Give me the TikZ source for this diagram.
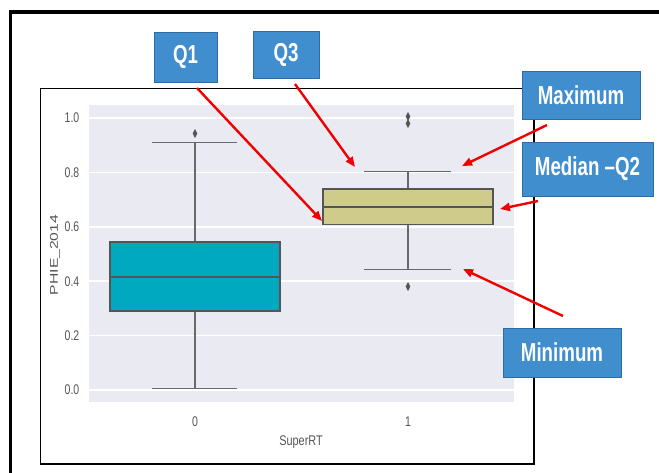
\documentclass[tikz,border=0pt]{standalone}
\usepackage{fontspec}
\setmainfont{Liberation Sans}
\usetikzlibrary{arrows.meta}
\definecolor{lblue}{RGB}{64,142,206}
\definecolor{lbord}{RGB}{46,108,168}
\definecolor{plotbg}{RGB}{234,234,242}
\definecolor{boxteal}{RGB}{0,168,192}
\definecolor{boxkhaki}{RGB}{207,203,138}
\definecolor{wgray}{RGB}{105,105,105}
\definecolor{tgray}{RGB}{85,85,85}
\definecolor{arrred}{RGB}{240,0,0}
\newcommand{\sqz}[2]{\scalebox{#1}[1]{#2}}
\newcommand{\dmd}[2]{\fill[tgray] (#1,#2-4.5) -- (#1+2.3,#2) -- (#1,#2+4.5) -- (#1-2.3,#2) -- cycle;}
\begin{document}
\begin{tikzpicture}[x=1pt,y=-1pt,
  lbl/.style={draw=lbord, line width=1pt, fill=lblue, text=white,
    font=\fontsize{26}{28}\selectfont\bfseries, inner sep=0pt},
  tick/.style={text=tgray, font=\fontsize{14}{16}\selectfont, inner sep=0pt},
  grid/.style={white, line width=1.6pt},
  wsk/.style={wgray, line width=1.6pt},
  bx/.style={draw=tgray, line width=1.6pt},
  pointer/.style={arrred, line width=2.4pt, -{Triangle[length=10pt,width=8pt]}}]
\useasboundingbox (0,0) rectangle (659,472);
\clip (0,0) rectangle (659,472);
% outer frame
\draw[black, line width=3.6pt] (10.3,11.7) rectangle (700,520);
% inner plot frame
\draw[black, line width=1.1pt] (40.5,88.5) rectangle (534,464);
% plot background
\fill[plotbg] (89,105) rectangle (514,402);
% grid lines
\foreach \yy in {118,172.4,226.8,281.2,335.6,390}
  \draw[grid] (89,\yy) -- (514,\yy);
% tick labels
\node[tick] (t10) at (72,118) {\sqz{0.75}{1.0}};
\node[tick] (t08) at (72,172.4) {\sqz{0.75}{0.8}};
\node[tick] (t06) at (72,226.8) {\sqz{0.75}{0.6}};
\node[tick] (t04) at (72,281.2) {\sqz{0.75}{0.4}};
\node[tick] (t02) at (72,335.6) {\sqz{0.75}{0.2}};
\node[tick] (t00) at (72,390) {\sqz{0.75}{0.0}};
\node[tick] (x0) at (195,422) {\sqz{0.75}{0}};
\node[tick] (x1) at (408,422) {\sqz{0.75}{1}};
\node[tick] (xl) at (301,442) {\sqz{0.78}{SuperRT}};
\node[tick, rotate=90] (yl) at (55,255) {\scalebox{1.12}[0.8]{PHIE\_2014}};
% box 0
\draw[wsk] (195,142.5) -- (195,241.8);
\draw[wsk] (195,311.1) -- (195,388.6);
\draw[wsk] (152,142.5) -- (237,142.5);
\draw[wsk] (152,388.6) -- (237,388.6);
\filldraw[bx, fill=boxteal] (110,241.8) rectangle (280,311.1);
\draw[bx] (110,277.1) -- (280,277.1);
\dmd{195}{133.5}
% box 1
\draw[wsk] (408,171.5) -- (408,188.7);
\draw[wsk] (408,224.5) -- (408,269.5);
\draw[wsk] (364,171.5) -- (451,171.5);
\draw[wsk] (364,269.5) -- (451,269.5);
\filldraw[bx, fill=boxkhaki] (323,188.7) rectangle (493,224.5);
\draw[bx] (323,206.8) -- (493,206.8);
\dmd{408}{116.5}
\dmd{408}{123.5}
\dmd{408}{286.5}
% labels
\node[lbl, minimum width=63pt, minimum height=50pt] (q1) at (185.5,57) {\sqz{0.72}{Q1}};
\node[lbl, minimum width=66pt, minimum height=47pt] (q3) at (286,54.5) {\sqz{0.72}{Q3}};
\node[lbl, minimum width=118pt, minimum height=48pt] (mx) at (581,95) {\sqz{0.72}{Maximum}};
\node[lbl, minimum width=131pt, minimum height=54pt] (md) at (587.5,169) {\sqz{0.72}{Median –Q2}};
\node[lbl, minimum width=118pt, minimum height=49pt] (mn) at (562,352.5) {\sqz{0.72}{Minimum}};
% arrow ends
\coordinate (q1s) at (197,88);
\coordinate (q1e) at (322,221);
\coordinate (q3s) at (295,84);
\coordinate (q3e) at (355,167);
\coordinate (mxs) at (547,125);
\coordinate (mxe) at (462,166);
\coordinate (mds) at (538,201);
\coordinate (mde) at (500,209);
\coordinate (mns) at (563,316);
\coordinate (mne) at (463,269);
\draw[pointer] (q1s) -- (q1e);
\draw[pointer] (q3s) -- (q3e);
\draw[pointer] (mxs) -- (mxe);
\draw[pointer] (mds) -- (mde);
\draw[pointer] (mns) -- (mne);
\end{tikzpicture}
\end{document}
